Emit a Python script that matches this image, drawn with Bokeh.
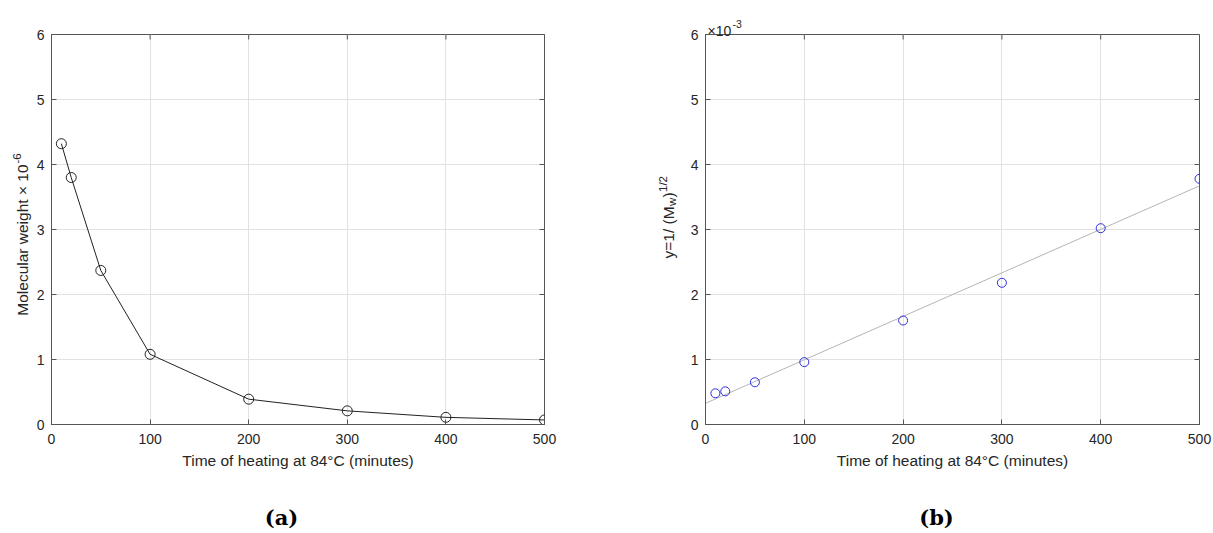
import math
import numpy as np
from bokeh.plotting import figure
from bokeh.models import Label, FixedTicker, Range1d
from bokeh.layouts import row
from bokeh.embed import file_html
from bokeh.resources import INLINE

# ---- data ----
time_min = [10, 20, 50, 100, 200, 300, 400, 500]
mol_weight_e6 = [4.32, 3.80, 2.37, 1.08, 0.39, 0.21, 0.11, 0.07]          # Molecular weight x 10^-6
inv_sqrt_mw_e3 = [0.48, 0.51, 0.65, 0.96, 1.60, 2.18, 3.02, 3.78]         # y = 1/(Mw)^1/2, x 10^-3
x_ticks = [0, 100, 200, 300, 400, 500]
y_ticks = [0, 1, 2, 3, 4, 5, 6]
X_MAX, Y_MAX = 500, 6

# linear fit for panel (b)
slope, intercept = np.polyfit(time_min, inv_sqrt_mw_e3, 1)
fit_x = [0, X_MAX]
fit_y = [intercept + slope * v for v in fit_x]

FONT = "Liberation Sans"
AX = "#555555"
TXT = "#262626"
GRID = "#e2e2e2"
H = 531


def style(p):
    p.x_range = Range1d(0, X_MAX)
    p.y_range = Range1d(0, Y_MAX)
    p.background_fill_color = "white"
    p.border_fill_color = "white"
    p.outline_line_color = AX
    p.outline_line_width = 1
    p.xgrid.ticker = FixedTicker(ticks=x_ticks)
    p.ygrid.ticker = FixedTicker(ticks=y_ticks)
    p.grid.grid_line_color = GRID
    p.grid.grid_line_width = 1
    for ax in (p.xaxis[0], p.yaxis[0]):
        ax.axis_line_color = AX
        ax.major_tick_line_color = AX
        ax.major_tick_in = 5
        ax.major_tick_out = 0
        ax.minor_tick_line_color = None
        ax.major_label_text_font = FONT
        ax.major_label_text_font_size = "14px"
        ax.major_label_text_color = TXT
    p.xaxis[0].ticker = FixedTicker(ticks=x_ticks)
    p.yaxis[0].ticker = FixedTicker(ticks=y_ticks)
    p.xaxis[0].major_label_standoff = 9
    p.yaxis[0].major_label_standoff = 7
    p.xaxis[0].axis_label = "Time of heating at 84\u00b0C (minutes)"
    p.xaxis[0].axis_label_text_font = FONT
    p.xaxis[0].axis_label_text_font_size = "15.5px"
    p.xaxis[0].axis_label_text_font_style = "normal"
    p.xaxis[0].axis_label_text_color = TXT
    p.xaxis[0].axis_label_standoff = 5
    p.yaxis[0].axis_label = None
    # mirrored inward ticks on the top and right edges (half of each dash is clipped by the frame)
    p.scatter(x_ticks, [Y_MAX] * len(x_ticks), marker="dash", size=10, angle=math.pi / 2,
              line_color=AX, line_width=1)
    p.scatter([X_MAX] * len(y_ticks), y_ticks, marker="dash", size=10,
              line_color=AX, line_width=1)


def lab(p, place, text, x, y, size="15.5px", angle=0.0, align="left", baseline="alphabetic",
        font=FONT, style_="normal", color=TXT):
    p.add_layout(Label(x=x, y=y, x_units="canvas", y_units="canvas", text=text,
                       angle=angle, angle_units="rad", text_font=font,
                       text_font_size=size, text_font_style=style_, text_color=color,
                       text_align=align, text_baseline=baseline), place)


ang = math.pi / 2

# ---- panel (a) ----
pa = figure(width=608, height=H, output_backend="svg", toolbar_location=None,
            min_border_left=51, min_border_right=64, min_border_top=34, min_border_bottom=H - 34 - 390)
style(pa)
pa.line(time_min, mol_weight_e6, line_color="#222222", line_width=1)
pa.scatter(time_min, mol_weight_e6, marker="circle", size=10, fill_color=None,
           line_color="#222222", line_width=1)
lab(pa, "left", "Molecular weight \u00d7 10", 22, 164, angle=ang, align="right")
lab(pa, "left", "-6", 16, 163, size="11.5px", angle=ang, align="left")
lab(pa, "below", "(a)", 281, 517, size="21px", align="center", baseline="middle",
    font="DejaVu Serif", style_="bold", color="#000000")

# ---- panel (b) ----
pb = figure(width=605, height=H, output_backend="svg", toolbar_location=None,
            min_border_left=97, min_border_right=14, min_border_top=34, min_border_bottom=H - 34 - 391)
style(pb)
pb.line(fit_x, fit_y, line_color="#b5b5b5", line_width=1)
pb.scatter(time_min, inv_sqrt_mw_e3, marker="circle", size=9, fill_color=None,
           line_color="#2f2fe0", line_width=1)
lab(pb, "left", "y=1/ (M", 60, 258, angle=ang)
lab(pb, "left", "w", 63, 205.5, size="11.5px", angle=ang)
lab(pb, "left", ")", 60, 197, size="15.5px", angle=ang)
lab(pb, "left", "1/2", 54, 191.5, size="11.5px", angle=ang)
lab(pb, "above", "\u00d710", 99, 30, size="14px")
lab(pb, "above", "-3", 124, 23, size="10.5px")
lab(pb, "below", "(b)", 328, 517, size="21px", align="center", baseline="middle",
    font="DejaVu Serif", style_="bold", color="#000000")

layout = row(pa, pb)
open("out.html", "w").write(file_html(layout, INLINE))
